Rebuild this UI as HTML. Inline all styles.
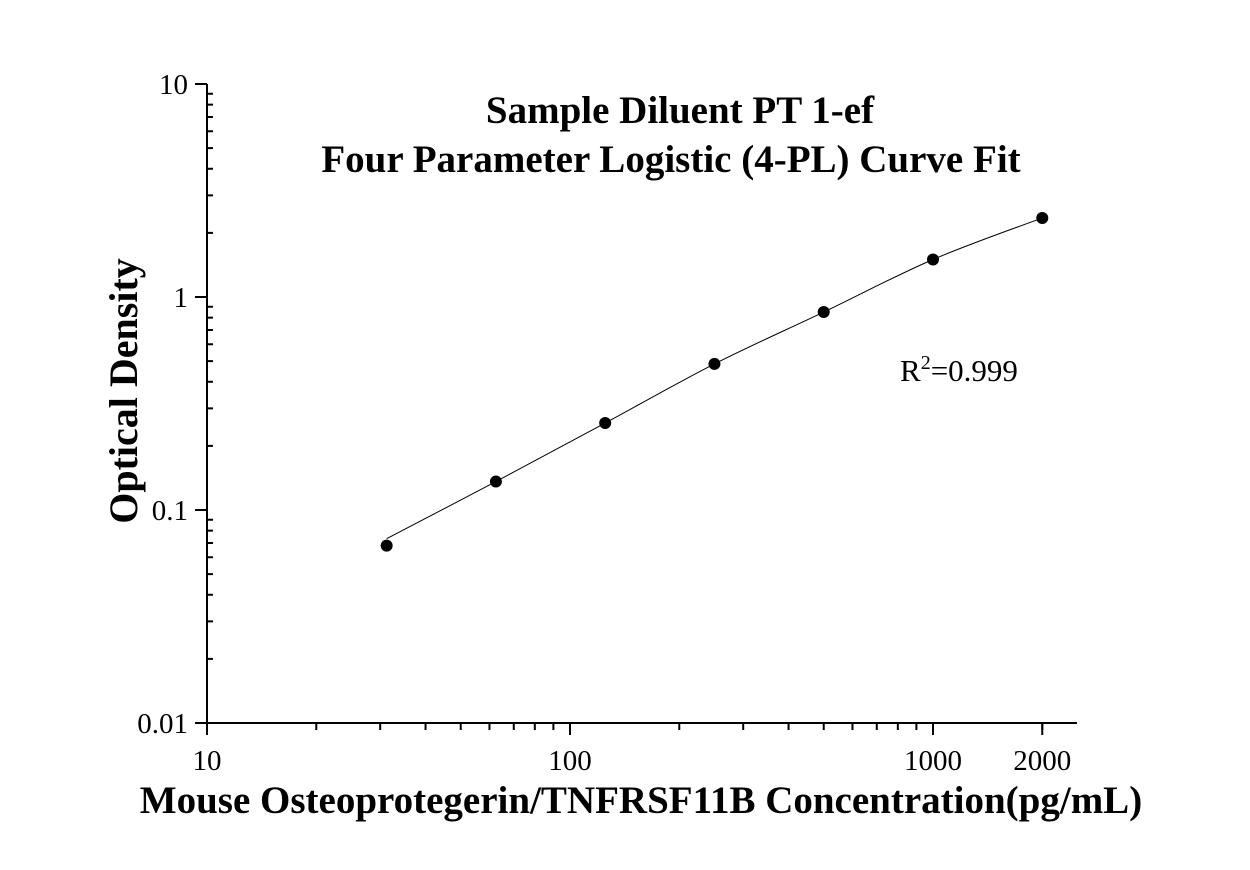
<!DOCTYPE html>
<html><head><meta charset="utf-8"><style>
body{margin:0;background:#fff;}
svg text{font-family:"Liberation Serif",serif;fill:#000;}
</style></head><body>
<svg width="1250" height="865" xmlns="http://www.w3.org/2000/svg">
<rect width="1250" height="865" fill="#fff"/>
<g id="axes"></g>
<g id="marks"></g>
<text x="680" y="123" font-size="39" font-weight="bold" text-anchor="middle">Sample Diluent PT 1-ef</text>
<text x="671" y="172" font-size="39" font-weight="bold" text-anchor="middle">Four Parameter Logistic (4-PL) Curve Fit</text>
<text x="900" y="381" font-size="31">R<tspan font-size="20" dy="-12">2</tspan><tspan dy="12">=0.999</tspan></text>
<text x="641" y="813" font-size="39" font-weight="bold" text-anchor="middle">Mouse Osteoprotegerin/TNFRSF11B Concentration(pg/mL)</text>
<text transform="translate(137,391) rotate(-90)" font-size="40" font-weight="bold" text-anchor="middle">Optical Density</text>
</svg>
<script>
const concentrations=[31.25,62.5,125,250,500,1000,2000];
const odValues=[0.068,0.136,0.256,0.485,0.85,1.5,2.35];
const xTickLabels=["10","100","1000","2000"];
const xTickValues=[10,100,1000,2000];
const yTickLabels=["0.01","0.1","1","10"];
const yTickValues=[0.01,0.1,1,10];

const NS="http://www.w3.org/2000/svg";
const X0=207,XDEC=363,Y0=723,YDEC=213,XEND=1077;
function xs(v){return X0+XDEC*Math.log10(v/10);}
function ys(v){return Y0-YDEC*Math.log10(v/0.01);}
function mk(tag,attrs,parent){const e=document.createElementNS(NS,tag);for(const k in attrs)e.setAttribute(k,attrs[k]);parent.appendChild(e);return e;}
const axes=document.getElementById('axes'),marks=document.getElementById('marks');
let l=mk('line',{x1:X0,y1:84,x2:X0,y2:Y0,stroke:'#000','stroke-width':2},axes);


l=mk('line',{x1:195,y1:Y0,x2:XEND,y2:Y0,stroke:'#000','stroke-width':2},axes);


for(let d=0;d<3;d++){for(let m=2;m<=9;m++){const y=ys(0.01*Math.pow(10,d)*m);mk('line',{x1:X0,y1:y,x2:X0+6,y2:y,stroke:'#000','stroke-width':2},axes);}}
yTickValues.forEach((v,i)=>{const y=ys(v);mk('line',{x1:195,y1:y,x2:X0,y2:y,stroke:'#000','stroke-width':2},axes);
const t=mk('text',{x:188,y:y+10,'font-size':29,'text-anchor':'end'},axes);t.textContent=yTickLabels[i];

});
for(let d=0;d<3;d++){for(let m=2;m<=9;m++){const v=10*Math.pow(10,d)*m;const x=xs(v);if(x>XEND)continue;mk('line',{x1:x,y1:Y0,x2:x,y2:Y0+7,stroke:'#000','stroke-width':2},axes);}}
xTickValues.forEach((v,i)=>{const x=xs(v);mk('line',{x1:x,y1:Y0,x2:x,y2:Y0+12,stroke:'#000','stroke-width':2},axes);
const t=mk('text',{x:x,y:Y0+47,'font-size':29,'text-anchor':'middle'},axes);t.textContent=xTickLabels[i];

});
const P=concentrations.map((c,i)=>[xs(c),ys(odValues[i])]);
const Q=P.map((p,i)=>i==0?[p[0],p[1]-7]:p);
let d='M'+Q[0][0]+','+Q[0][1];
for(let i=0;i<Q.length-1;i++){const p0=Q[Math.max(0,i-1)],p1=Q[i],p2=Q[i+1],p3=Q[Math.min(Q.length-1,i+2)];
d+=' C'+(p1[0]+(p2[0]-p0[0])/6)+','+(p1[1]+(p2[1]-p0[1])/6)+' '+(p2[0]-(p3[0]-p1[0])/6)+','+(p2[1]-(p3[1]-p1[1])/6)+' '+p2[0]+','+p2[1];}
const c=mk('path',{d:d,fill:'none',stroke:'#000','stroke-width':1},marks);


P.forEach(p=>{const e=mk('circle',{cx:p[0],cy:p[1],r:6,fill:'#000'},marks);

});
</script>
</body></html>
